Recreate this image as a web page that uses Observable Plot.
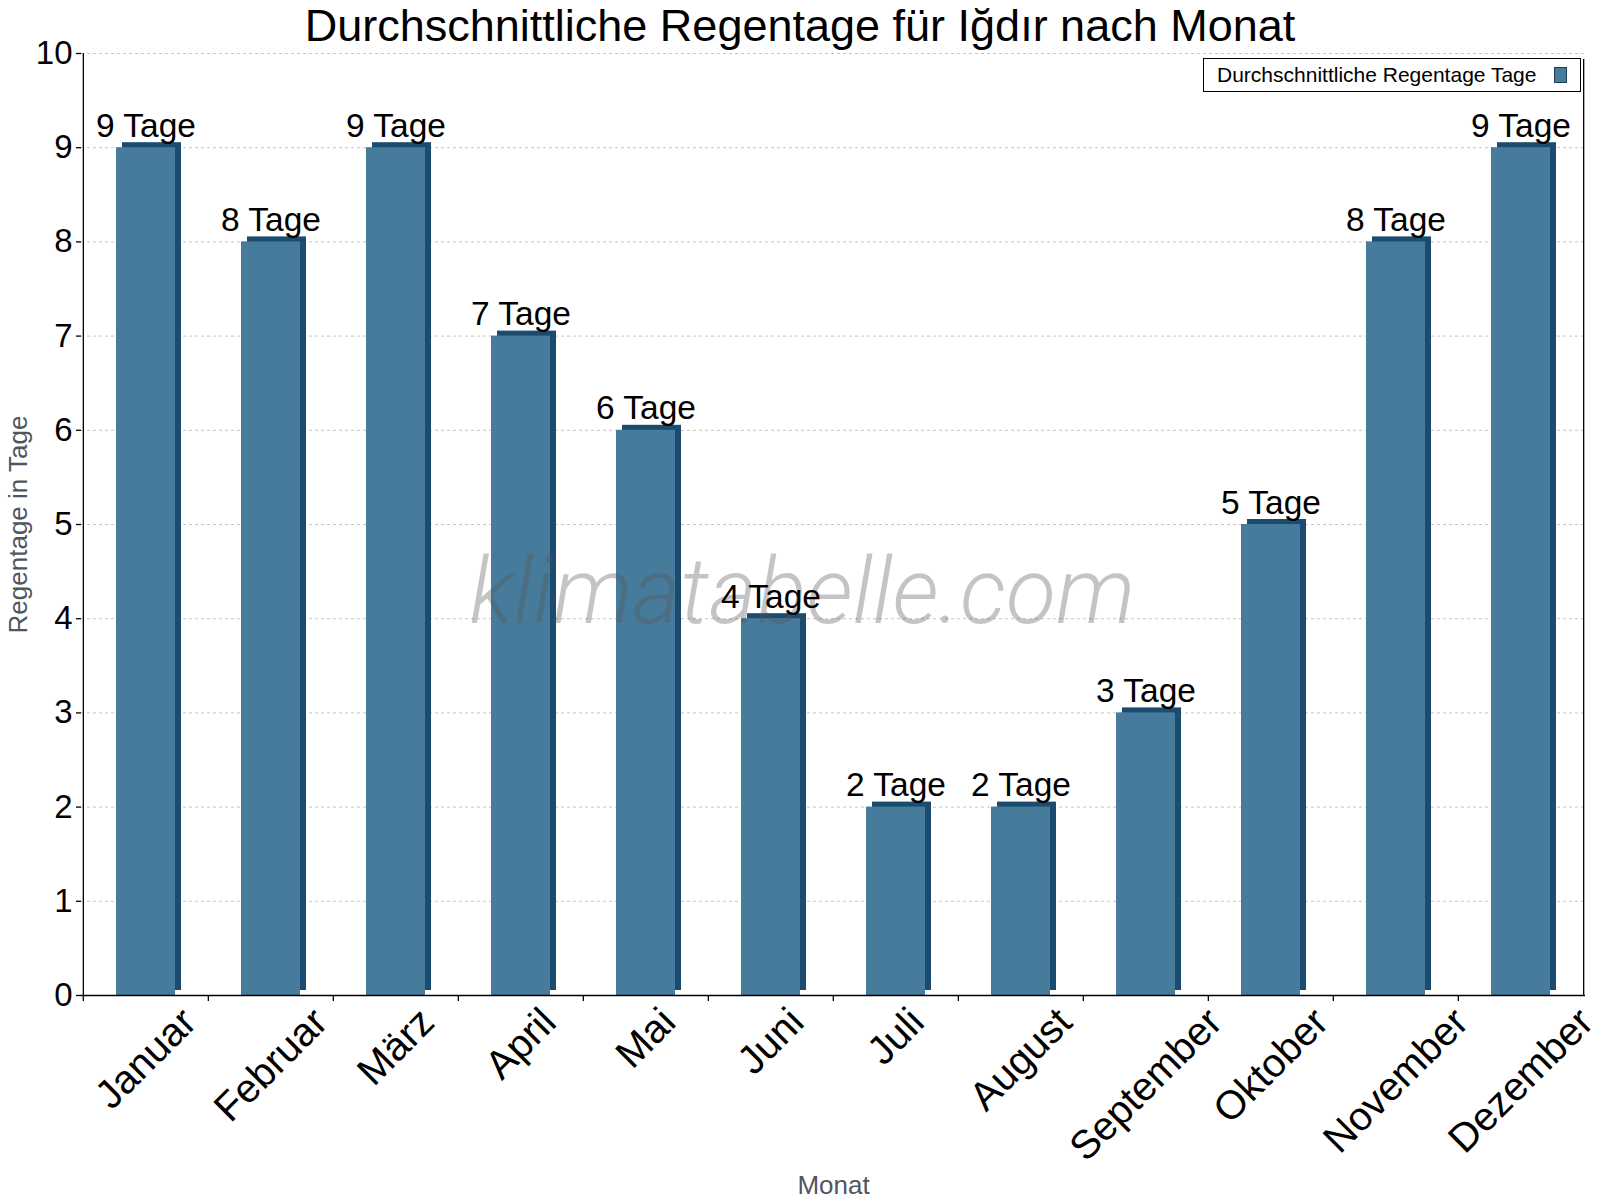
<!DOCTYPE html>
<html>
<head>
<meta charset="utf-8">
<script src="https://cdn.jsdelivr.net/npm/d3@7"></script>
<script src="https://cdn.jsdelivr.net/npm/@observablehq/plot@0.6"></script>
<style>
  html, body { margin: 0; padding: 0; background: #fff; }
  #wrap { position: relative; width: 1600px; height: 1200px; font-family: "Liberation Sans", Arial, sans-serif; overflow: hidden; }
  #title { position: absolute; left: 0; top: 0; width: 1600px; text-align: center; font-size: 45px; line-height: 51px; color: #000; white-space: nowrap; }
  #legend { position: absolute; left: 1203px; top: 58px; width: 376px; height: 32px; border: 1px solid #000; background: #fff; }
  #legend .lt { position: absolute; left: 13px; top: 5px; font-size: 21px; line-height: 21px; color: #000; white-space: nowrap; }
  #legend .sw { position: absolute; left: 350px; top: 8px; width: 11px; height: 14px; background: #467b9c; border: 1px solid #1b3d55; }
</style>
</head>
<body>
<div id="wrap">
  <div id="chart"></div>
  <div id="title"></div>
  <div id="legend"><span class="lt"></span><span class="sw"></span></div>
</div>
<script>
const titleText = "Durchschnittliche Regentage für Iğdır nach Monat";
const legendText = "Durchschnittliche Regentage Tage";
const yLabel = "Regentage in Tage";
const xLabel = "Monat";
const watermark = "klimatabelle.com";
const unit = "Tage";
const months = ["Januar", "Februar", "März", "April", "Mai", "Juni", "Juli", "August", "September", "Oktober", "November", "Dezember"];
const rainDays = [9, 8, 9, 7, 6, 4, 2, 2, 3, 5, 8, 9];
const yTicks = [0, 1, 2, 3, 4, 5, 6, 7, 8, 9, 10];

const frontColor = "#467b9c";
const darkColor = "#1b4b6e";
const font = "Liberation Sans, Arial, sans-serif";

document.getElementById("title").textContent = titleText;
document.querySelector("#legend .lt").textContent = legendText;

const data = months.map((m, i) => ({month: m, value: rainDays[i]}));

const W = 1600, H = 1200, mL = 81, mR = 15, mT = 53, mB = 205;
const step = (W - mL - mR) / months.length;

const ctx = document.createElement("canvas").getContext("2d");
function textWidth(s, f) { ctx.font = f; return ctx.measureText(s).width; }

const tickFont = 40;
const tickLabels = months.map((m) => {
  const L = textWidth(m, `${tickFont}px "Liberation Sans"`);
  return Plot.text([m], {
    x: (d) => d, text: (d) => d, frameAnchor: "bottom",
    rotate: -45, textAnchor: "middle", lineAnchor: "middle",
    fontSize: tickFont, fill: "#000", dy: 20 + 0.354 * L
  });
});

const chart = Plot.plot({
  width: W, height: H,
  marginLeft: mL, marginRight: mR, marginTop: mT, marginBottom: mB,
  style: {fontFamily: font, color: "#000", background: "transparent", overflow: "visible"},
  x: {domain: months, paddingInner: 0.53, paddingOuter: 0.265, axis: null},
  y: {domain: [0, 10], axis: null},
  marks: [
    Plot.gridY({ticks: yTicks.slice(1), stroke: "#c4c4c4", strokeOpacity: 1, strokeDasharray: "3,3", strokeWidth: 1}),
    Plot.barY(data, {x: "month", y: "value", fill: darkColor, dx: 6, dy: -5}),
    Plot.barY(data, {x: "month", y: "value", fill: frontColor}),
    Plot.text([watermark], {text: (d) => d, frameAnchor: "left", dx: 388, dy: 98, textAnchor: "start", lineAnchor: "bottom",
      fontSize: 92, fontStyle: "italic", fontWeight: 300, fontFamily: "Roboto, Lato, sans-serif", fill: "#555", fillOpacity: 0.35}),
    Plot.text(data, {x: "month", y: "value", text: (d) => `${d.value} ${unit}`, dy: -11, lineAnchor: "bottom", fontSize: 33.5, fill: "#000"}),
    Plot.ruleY([0], {stroke: "#000", strokeWidth: 1.3}),
    Plot.ruleX([months[0]], {x: (d) => d, y1: 0, y2: 10, dx: -step / 2, stroke: "#000", strokeWidth: 1.3}),
    Plot.ruleX([months[months.length - 1]], {x: (d) => d, y1: 0, y2: 10, dx: step / 2, stroke: "#000", strokeWidth: 1.3, insetBottom: -6}),
    Plot.ruleX(months, {x: (d) => d, y1: 0, y2: 0, dx: -step / 2, insetBottom: -6, stroke: "#000", strokeWidth: 1.3}),
    Plot.axisY({ticks: yTicks, tickSize: 5, tickPadding: 4, fontSize: 33, label: null, stroke: "#000", strokeWidth: 1.3, fill: "#000"}),
    ...tickLabels,
    Plot.text([yLabel], {text: (d) => d, frameAnchor: "left", dx: -55, rotate: -90, textAnchor: "middle", lineAnchor: "bottom", fontSize: 26, fill: "#50565f"}),
    Plot.text([xLabel], {text: (d) => d, frameAnchor: "bottom", dy: 198, textAnchor: "middle", lineAnchor: "bottom", fontSize: 26, fill: "#50565f"})
  ]
});
document.getElementById("chart").appendChild(chart);
</script>
</body>
</html>
